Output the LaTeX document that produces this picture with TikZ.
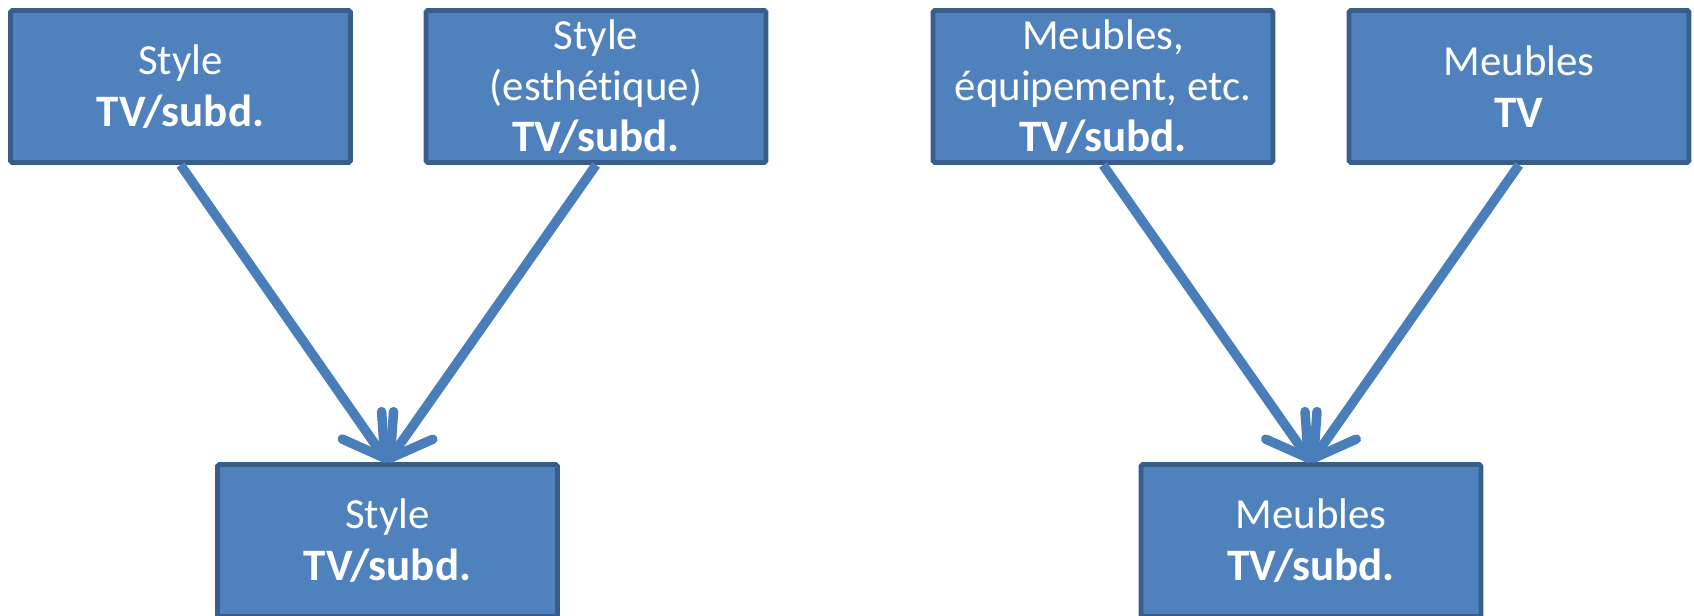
\documentclass[tikz,border=0pt]{standalone}
\usepackage{fontspec}
\setmainfont{Carlito}[Ligatures={NoCommon}]
\usetikzlibrary{arrows.meta}
\definecolor{boxfill}{RGB}{79,129,189}
\definecolor{boxline}{RGB}{56,93,138}
\definecolor{arrline}{RGB}{74,126,187}
\newcommand{\boldline}[1]{{\fontsize{12.8}{14.6}\selectfont\bfseries #1}}
\tikzset{
  box/.style={draw=boxline, fill=boxfill, line width=1.4pt, rounded corners=0.5pt,
    minimum width=3.4cm, minimum height=1.52cm, inner sep=0pt, align=center,
    text=white, font=\fontsize{12.2}{14.6}\selectfont},
  arr/.style={draw=arrline, line width=2.7pt,
    -{Straight Barb[round, length=4mm, width=4.8mm]}}
}
\begin{document}
\begin{tikzpicture}
            \useasboundingbox (0,0) rectangle (16.94,-6.16);
            %Nodes
            \node[box] at (1.805,-0.865)  (sty)    {Style\\\boldline{TV/subd.}};
            \node[box] at (5.96,-0.865)   (esth)   {Style\\(esthétique)\\\boldline{TV/subd.}};
            \node[box] at (3.875,-5.405)  (stysub) {Style\\\boldline{TV/subd.}};
            \node[box] at (11.03,-0.865)  (meq)    {Meubles,\\équipement, etc.\\\boldline{TV/subd.}};
            \node[box] at (15.19,-0.865)  (mtv)    {Meubles\\\boldline{TV}};
            \node[box] at (13.11,-5.405)  (msub)   {Meubles\\\boldline{TV/subd.}};

            %Lines
            \draw[arr] (sty.south) -- (stysub.north);
            \draw[arr] (esth.south) -- (stysub.north);
            \draw[arr] (meq.south) -- (msub.north);
            \draw[arr] (mtv.south) -- (msub.north);
\end{tikzpicture}
\end{document}
